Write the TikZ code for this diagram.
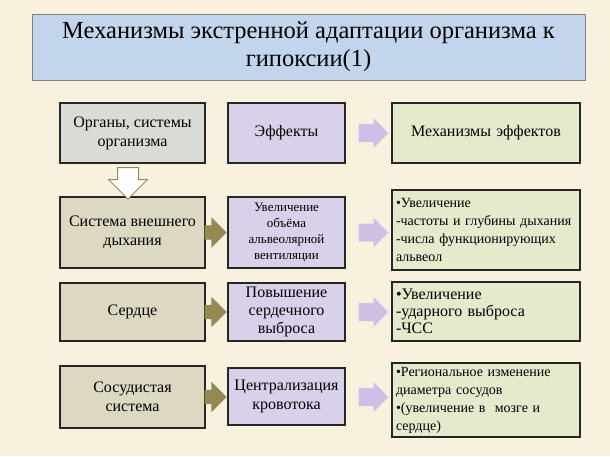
\documentclass[tikz,border=0pt]{standalone}
\usepackage{fontspec}
\setmainfont{Liberation Serif}
\usetikzlibrary{shapes.arrows,positioning}
\definecolor{bgcream}{HTML}{F8F1DE}
\definecolor{titleblue}{HTML}{C3D5EC}
\definecolor{organfill}{HTML}{D9DCD6}
\definecolor{sysfill}{HTML}{DDD8C2}
\definecolor{efffill}{HTML}{D9D1E9}
\definecolor{mechfill}{HTML}{E3EBCC}
\definecolor{olivearr}{HTML}{938953}
\definecolor{lavarr}{HTML}{CDC0E4}
\tikzset{
  box/.style={draw=black!85, line width=1.1pt, align=center, inner sep=2pt},
  sysbox/.style={box, fill=sysfill, minimum width=145pt, font=\fontsize{16}{19}\selectfont},
  effbox/.style={box, fill=efffill, minimum width=117pt},
  mechbox/.style={box, fill=mechfill, minimum width=188pt, align=left, text width=180pt, font=\fontsize{14}{18}\selectfont},
  olive/.style={single arrow, fill=olivearr, draw=none, minimum height=22pt, inner sep=7pt, single arrow head extend=8pt},
  lavender/.style={single arrow, fill=lavarr, draw=white!60!lavarr, minimum height=30pt, inner sep=9pt, single arrow head extend=6pt}
}
\begin{document}
\begin{tikzpicture}[x=1pt, y=-1pt]
  \fill[bgcream] (0,0) rectangle (610,456);
  \useasboundingbox (0,0) rectangle (610,456);
  % title
  \node[draw=gray, fill=titleblue, line width=0.8pt, minimum width=553pt, minimum height=66pt, align=center,
        font=\fontsize{24.5}{28}\selectfont] (title) at (308.5,47) {Механизмы экстренной адаптации организма к\\гипоксии(1)};
  % header row
  \node[box, fill=organfill, minimum width=145pt, minimum height=60pt, font=\fontsize{16}{19}\selectfont] (organs) at (132.5,133) {Органы, системы\\организма};
  \node[effbox, minimum height=60pt, font=\fontsize{16}{19}\selectfont] (effects) at (286.5,133) {Эффекты};
  \node[mechbox, minimum height=60pt, align=center, font=\fontsize{16}{19}\selectfont] (mechs) at (486,133) {Механизмы эффектов};
  % rows
  \node[sysbox, minimum height=71pt] (resp) at (132.5,232.5) {Система внешнего\\дыхания};
  \node[effbox, minimum height=71pt, font=\fontsize{13}{16}\selectfont] (respeff) at (286.5,232.5) {Увеличение\\объёма\\альвеолярной\\вентиляции};
  \node[mechbox, minimum height=80pt] (respmech) at (486,230) {•Увеличение\\-частоты и глубины дыхания\\-числа функционирующих\\альвеол};
  \node[sysbox, minimum height=58pt] (heart) at (132.5,312) {Сердце};
  \node[effbox, minimum height=58pt, font=\fontsize{16}{18}\selectfont] (hearteff) at (286.5,312) {Повышение\\сердечного\\выброса};
  \node[mechbox, minimum height=59pt, font=\fontsize{16}{17}\selectfont] (heartmech) at (486,311.5) {•Увеличение\\-ударного выброса\\-ЧСС};
  \node[sysbox, minimum height=62pt] (vessels) at (132.5,397) {Сосудистая\\система};
  \node[effbox, minimum height=57pt, font=\fontsize{16}{19}\selectfont] (vesseff) at (286.5,396.5) {Централизация\\кровотока};
  \node[mechbox, minimum height=74pt] (vessmech) at (486,400) {•Региональное изменение\\диаметра сосудов\\•(увеличение в\ \ мозге и\\сердце)};
  % arrows
  \node[single arrow, shape border rotate=270, draw=olivearr, line width=1pt, fill=white, minimum height=24pt,
        inner sep=10pt, single arrow head extend=9pt] (down) at (128,178) {};
  \foreach \row/\y in {resp/232.5, heart/312, vessels/397}{
    \node[olive] (oa-\row) at (212,\y) {};
  }
  \foreach \row/\y in {organs/133, resp/232.5, heart/312, vessels/397}{
    \node[lavender] (la-\row) at (369,\y) {};
  }
\end{tikzpicture}
\end{document}
